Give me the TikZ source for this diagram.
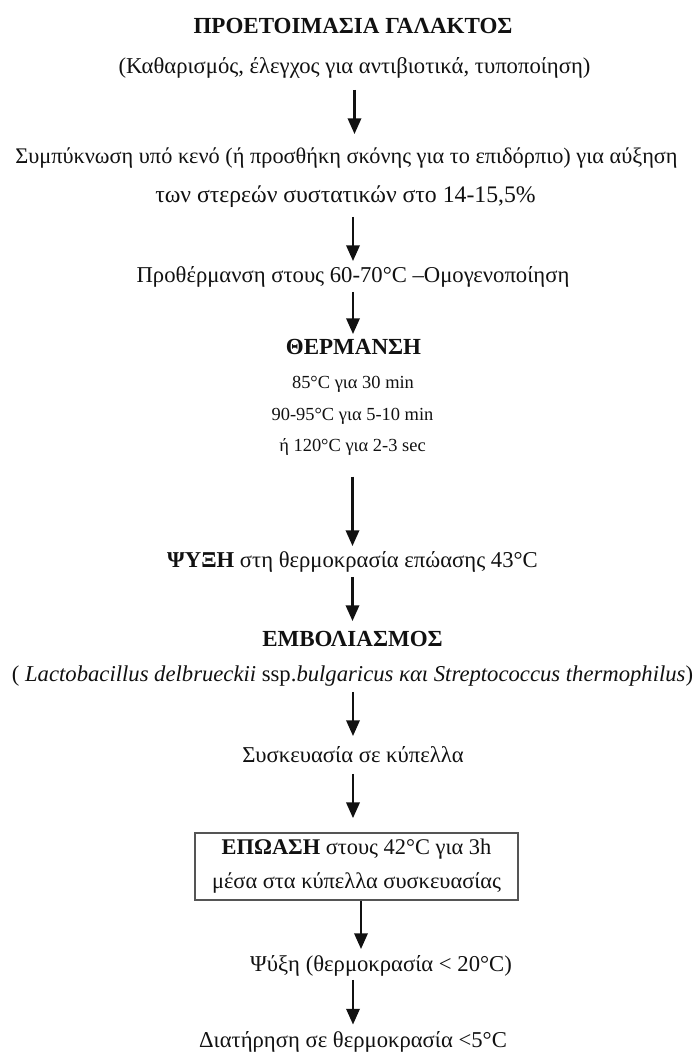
\documentclass[tikz,border=0pt]{standalone}
\usepackage{fontspec}
\setmainfont{Liberation Serif}
\usetikzlibrary{arrows.meta, positioning, calc}
\definecolor{yogInk}{HTML}{111111}
\definecolor{yogFrame}{HTML}{555555}

\begin{document}
\begin{tikzpicture}[>=Triangle,
  txt/.style={inner sep=0pt, text height=9pt, text depth=3pt, text=yogInk,
              font=\fontsize{12.9}{15}\selectfont},
  head/.style={txt, font=\fontsize{13.1}{15}\selectfont\bfseries},
  sml/.style={inner sep=0pt, text height=7.5pt, text depth=2.5pt, text=yogInk,
              font=\fontsize{10.5}{12}\selectfont},
  flow/.style={-{Triangle[width=7.5pt,length=9pt]}, line width=1.6pt, yogInk}]
  \useasboundingbox (0,0) rectangle (13.88,-21.06);

  % steps, top to bottom
  \node[head] (prep) at (7.06,-0.57) {ΠΡΟΕΤΟΙΜΑΣΙΑ ΓΑΛΑΚΤΟΣ};
  \node[txt] (clean) at (7.09,-1.37) {(Καθαρισμός, έλεγχος για αντιβιοτικά, τυποποίηση)};
  \node[txt, font=\fontsize{12.7}{15}\selectfont] (condA) at (6.93,-3.17) {Συμπύκνωση υπό κενό (ή προσθήκη σκόνης για το επιδόρπιο) για αύξηση};
  \node[txt, font=\fontsize{13.5}{15}\selectfont] (condB) at (6.91,-3.95) {των στερεών συστατικών στο 14-15,5\%};
  \node[txt] (preheat) at (7.06,-5.55) {Προθέρμανση στους 60-70°C –Ομογενοποίηση};
  \node[head] (heat) at (7.07,-6.99) {ΘΕΡΜΑΝΣΗ};
  \node[sml] (heatA) at (7.06,-7.69) {85°C για 30 min};
  \node[sml] (heatB) at (7.05,-8.33) {90-95°C για 5-10 min};
  \node[sml] (heatC) at (7.05,-8.95) {ή 120°C για 2-3 sec};
  \node[txt] (cool) at (7.05,-11.25) {\textbf{ΨΥΞΗ} στη θερμοκρασία επώασης 43°C};
  \node[head] (inoc) at (7.05,-12.83) {ΕΜΒΟΛΙΑΣΜΟΣ};
  \node[txt] (strains) at (7.05,-13.53) {( \textit{Lactobacillus delbrueckii} ssp.\textit{bulgaricus και Streptococcus thermophilus})};
  \node[txt] (pack) at (7.06,-15.15) {Συσκευασία σε κύπελλα};
  \node[draw=yogFrame, line width=0.9pt, minimum width=6.46cm, minimum height=1.34cm,
        align=center, inner sep=0pt, text=yogInk, font=\fontsize{12.75}{19.3}\selectfont]
    (incub) at (7.13,-17.33) {\textbf{ΕΠΩΑΣΗ} στους 42°C για 3h\\μέσα στα κύπελλα συσκευασίας};
  \node[txt] (chill) at (7.62,-19.33) {Ψύξη (θερμοκρασία < 20°C)};
  \node[txt] (store) at (7.06,-20.85) {Διατήρηση σε θερμοκρασία <5°C};

  % arrows
  \draw[flow, shorten <=0.21cm, shorten >=0.27cm] (clean.south) -- (clean.south |- condA.north);
  \draw[flow, shorten <=0.17cm, shorten >=0.11cm] (condB.south -| preheat.north) -- (preheat.north);
  \draw[flow, shorten <=0.07cm, shorten >=0.09cm] (preheat.south) -- (preheat.south |- heat.north);
  \draw[flow, shorten <=0.40cm, shorten >=0.11cm] (heatC.south) -- (heatC.south |- cool.north);
  \draw[flow, shorten <=0.07cm, shorten >=0.19cm] (cool.south -| inoc.north) -- (inoc.north);
  \draw[flow, shorten <=0.09cm, shorten >=0.21cm] (strains.south -| pack.north) -- (pack.north);
  \draw[flow, shorten <=0.11cm, shorten >=0.28cm] (pack.south) -- (pack.south |- incub.north);
  \draw[flow, shorten >=0.13cm] ($(incub.south)+(0.09,0)$) -- ($(incub.south |- chill.north)+(0.09,0)$);
  \draw[flow, shorten <=0.05cm, shorten >=0.14cm] (chill.south -| store.north) -- (store.north);
\end{tikzpicture}
\end{document}
